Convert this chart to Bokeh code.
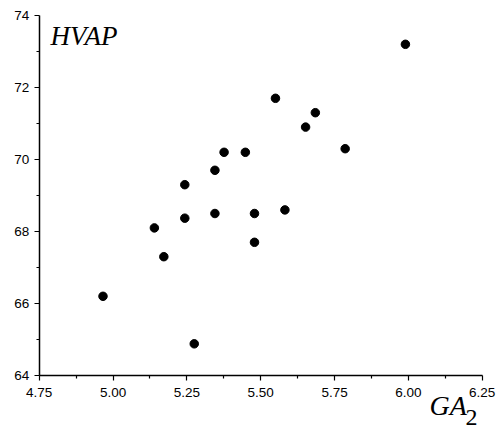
from bokeh.plotting import figure
from bokeh.models import FixedTicker, PrintfTickFormatter, Label, Range1d
from bokeh.embed import file_html
from bokeh.resources import INLINE

ga2 = [4.966, 5.376, 5.448, 5.786, 5.345, 5.243, 5.243, 5.345, 5.479, 5.582,
       5.140, 5.479, 5.172, 5.275, 5.990, 5.685, 5.652, 5.550]
hvap = [66.20, 70.20, 70.20, 70.30, 69.70, 69.30, 68.37, 68.50, 68.50, 68.60,
        68.10, 67.70, 67.30, 64.88, 73.20, 71.30, 70.90, 71.70]

x_ticks = [4.75, 5.00, 5.25, 5.50, 5.75, 6.00, 6.25]
x_minor = [4.875, 5.125, 5.375, 5.625, 5.875, 6.125]
y_ticks = [64, 66, 68, 70, 72, 74]
y_minor = [65, 67, 69, 71, 73]
x_lo, x_hi = 4.75, 6.25
y_lo, y_hi = 64, 74

# The frame covers the whole canvas (so nothing is clipped); the axes are pinned
# at x = 4.75 and y = 64 and bounded to the data extent.
W, H = 499, 430
left, right, top, bottom = 38.7, 17.3, 15, 55
xs = (W - left - right) / (x_hi - x_lo)
ys = (H - top - bottom) / (y_hi - y_lo)

p = figure(width=W, height=H, output_backend="svg", toolbar_location=None,
           x_range=Range1d(x_lo - left / xs, x_hi + right / xs),
           y_range=Range1d(y_lo - bottom / ys, y_hi + top / ys),
           min_border=0, min_border_left=0, min_border_right=0,
           min_border_top=0, min_border_bottom=0)
p.outline_line_color = None
p.xgrid.visible = False
p.ygrid.visible = False

p.scatter(ga2, hvap, size=8.5, color="black")

for ax, ticks, minor in ((p.xaxis[0], x_ticks, x_minor), (p.yaxis[0], y_ticks, y_minor)):
    ax.ticker = FixedTicker(ticks=ticks, minor_ticks=minor)
    ax.axis_line_color = "black"
    ax.axis_line_width = 1.5
    ax.major_tick_line_width = 1.2
    ax.minor_tick_line_width = 1.2
    ax.major_tick_in = 0
    ax.major_tick_out = 5
    ax.minor_tick_in = 0
    ax.minor_tick_out = 3
    ax.major_label_text_font = "Liberation Sans"
    ax.major_label_text_font_size = "13.5px"
    ax.major_label_text_color = "black"
    ax.major_label_standoff = 5

p.xaxis[0].major_label_standoff = 7
p.xaxis[0].fixed_location = y_lo
p.yaxis[0].fixed_location = x_lo
p.xaxis[0].bounds = (x_lo, x_hi)
p.yaxis[0].bounds = (y_lo, y_hi)
p.xaxis[0].formatter = PrintfTickFormatter(format="%.2f")
p.yaxis[0].formatter = PrintfTickFormatter(format="%d")

p.add_layout(Label(x=50, y=35.5, x_units="canvas", y_units="canvas", text="HVAP",
                   text_font="Liberation Serif", text_font_style="italic",
                   text_font_size="27px", text_color="black", text_baseline="middle"))
p.add_layout(Label(x=429, y=404.5, x_units="canvas", y_units="canvas", text="GA",
                   text_font="Liberation Serif", text_font_style="italic",
                   text_font_size="28px", text_color="black", text_baseline="middle"))
p.add_layout(Label(x=465, y=417, x_units="canvas", y_units="canvas", text="2",
                   text_font="Liberation Serif", text_font_style="normal",
                   text_font_size="24px", text_color="black", text_baseline="middle"))

open("out.html", "w").write(file_html(p, INLINE))
